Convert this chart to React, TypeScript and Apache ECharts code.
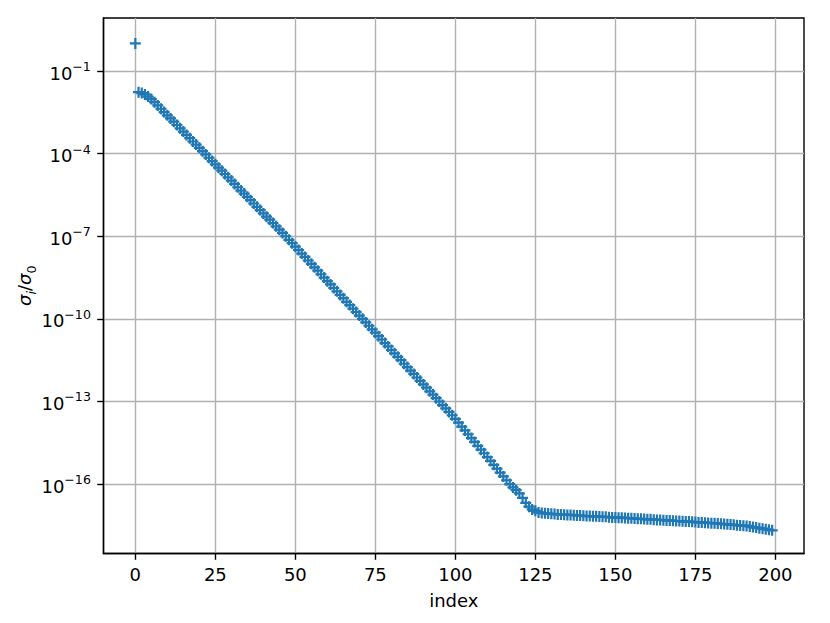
import React, { useEffect, useRef } from "react";
import * as echarts from "echarts";

// index of each singular value (x)
const indices: number[] = [
  0, 1, 2, 3, 4, 5, 6, 7, 8, 9, 10, 11, 12, 13, 14, 15, 16, 17, 18, 19,
  20, 21, 22, 23, 24, 25, 26, 27, 28, 29, 30, 31, 32, 33, 34, 35, 36, 37, 38, 39,
  40, 41, 42, 43, 44, 45, 46, 47, 48, 49, 50, 51, 52, 53, 54, 55, 56, 57, 58, 59,
  60, 61, 62, 63, 64, 65, 66, 67, 68, 69, 70, 71, 72, 73, 74, 75, 76, 77, 78, 79,
  80, 81, 82, 83, 84, 85, 86, 87, 88, 89, 90, 91, 92, 93, 94, 95, 96, 97, 98, 99,
  100, 101, 102, 103, 104, 105, 106, 107, 108, 109, 110, 111, 112, 113, 114, 115, 116, 117, 118, 119,
  120, 121, 122, 123, 124, 125, 126, 127, 128, 129, 130, 131, 132, 133, 134, 135, 136, 137, 138, 139,
  140, 141, 142, 143, 144, 145, 146, 147, 148, 149, 150, 151, 152, 153, 154, 155, 156, 157, 158, 159,
  160, 161, 162, 163, 164, 165, 166, 167, 168, 169, 170, 171, 172, 173, 174, 175, 176, 177, 178, 179,
  180, 181, 182, 183, 184, 185, 186, 187, 188, 189, 190, 191, 192, 193, 194, 195, 196, 197, 198, 199,
];

// log10(sigma_i / sigma_0)
const sigmaRatioLog10: number[] = [
  0.0, -1.77, -1.8, -1.85, -1.93, -2.02, -2.13, -2.25, -2.37, -2.49,
  -2.61, -2.72, -2.84, -2.96, -3.08, -3.2, -3.32, -3.44, -3.56, -3.67,
  -3.79, -3.91, -4.03, -4.15, -4.27, -4.39, -4.51, -4.62, -4.74, -4.86,
  -4.98, -5.1, -5.22, -5.34, -5.45, -5.57, -5.69, -5.81, -5.93, -6.05,
  -6.17, -6.29, -6.4, -6.52, -6.64, -6.76, -6.88, -7.0, -7.13, -7.25,
  -7.38, -7.5, -7.63, -7.75, -7.88, -8.0, -8.13, -8.25, -8.38, -8.5,
  -8.63, -8.75, -8.88, -9.0, -9.13, -9.25, -9.38, -9.5, -9.63, -9.75,
  -9.88, -10.0, -10.13, -10.25, -10.38, -10.5, -10.63, -10.75, -10.88, -11.0,
  -11.13, -11.25, -11.38, -11.5, -11.63, -11.75, -11.88, -12.0, -12.13, -12.25,
  -12.38, -12.5, -12.63, -12.75, -12.88, -13.0, -13.13, -13.25, -13.38, -13.5,
  -13.63, -13.77, -13.91, -14.05, -14.19, -14.33, -14.47, -14.61, -14.75, -14.88,
  -15.02, -15.16, -15.3, -15.44, -15.58, -15.72, -15.86, -16.0, -16.12, -16.22,
  -16.34, -16.5, -16.68, -16.82, -16.92, -16.97, -17.03, -17.05, -17.06, -17.07,
  -17.08, -17.09, -17.1, -17.1, -17.11, -17.12, -17.12, -17.13, -17.14, -17.14,
  -17.15, -17.16, -17.16, -17.17, -17.17, -17.18, -17.19, -17.19, -17.2, -17.21,
  -17.21, -17.22, -17.22, -17.23, -17.24, -17.24, -17.25, -17.26, -17.26, -17.27,
  -17.28, -17.28, -17.29, -17.3, -17.3, -17.31, -17.32, -17.32, -17.33, -17.34,
  -17.34, -17.35, -17.36, -17.36, -17.37, -17.38, -17.39, -17.39, -17.4, -17.41,
  -17.42, -17.42, -17.43, -17.44, -17.45, -17.46, -17.47, -17.48, -17.49, -17.5,
  -17.51, -17.52, -17.54, -17.56, -17.58, -17.6, -17.62, -17.64, -17.66, -17.68,
];

const xTickValues: number[] = [0, 25, 50, 75, 100, 125, 150, 175, 200];
const yTickExponents: number[] = [-16, -13, -10, -7, -4, -1];

const X_MIN = -9.95;
const X_MAX = 208.95;
const Y_MIN_EXP = -18.52;
const Y_MAX_EXP = 0.925;

const BLUE = "#1f77b4";
const FONT = "DejaVu Sans";
const PLUS =
  "path://M4.4,0H6.6V4.4H11V6.6H6.6V11H4.4V6.6H0V4.4H4.4Z";

export default function App() {
  const ref = useRef<HTMLDivElement>(null);

  useEffect(() => {
    if (!ref.current) return;
    const chart = echarts.init(ref.current, null, { renderer: "svg" });
    const data = indices.map((i, k) => [i, Math.pow(10, sigmaRatioLog10[k])]);
    const yTicks = yTickExponents.map((e) => Math.pow(10, e));

    chart.setOption({
      animation: false,
      backgroundColor: "#fff",
      grid: {
        left: 103.5,
        top: 18,
        width: 700.5,
        height: 535.5,
        show: true,
        borderColor: "#000",
        borderWidth: 1.4,
        backgroundColor: "transparent",
      },
      xAxis: {
        type: "value",
        min: X_MIN,
        max: X_MAX,
        name: "index",
        nameLocation: "middle",
        nameGap: 38,
        nameMoveOverlap: false,
        nameTextStyle: { fontFamily: FONT, fontSize: 18, color: "#000" },
        axisLine: { show: true, onZero: false, lineStyle: { color: "#000", width: 1.4 } },
        axisTick: {
          show: true,
          inside: false,
          length: 6.3,
          lineStyle: { color: "#000", width: 1.4 },
          customValues: xTickValues,
        },
        axisLabel: {
          show: true,
          margin: 12,
          fontFamily: FONT,
          fontSize: 18,
          color: "#000",
          customValues: xTickValues,
          formatter: (v: number) => String(Math.round(v)),
        },
        splitLine: { show: true, lineStyle: { color: "#b0b0b0", width: 1.4 } },
        minorTick: { show: false },
      },
      yAxis: {
        type: "log",
        logBase: 10,
        min: Math.pow(10, Y_MIN_EXP),
        max: Math.pow(10, Y_MAX_EXP),
        name: "{it|σ}{subi|i}{n|/}{it|σ}{sub|0}",
        nameLocation: "middle",
        nameRotate: 90,
        nameGap: 66,
        nameMoveOverlap: false,
        nameTextStyle: {
          fontFamily: FONT,
          fontSize: 18,
          color: "#000",
          rich: {
            it: { fontFamily: FONT, fontSize: 18, fontStyle: "italic", color: "#000", lineHeight: 22, verticalAlign: "top" },
            n: { fontFamily: FONT, fontSize: 18, color: "#000", lineHeight: 22, verticalAlign: "top" },
            subi: { fontFamily: FONT, fontSize: 12.6, fontStyle: "italic", color: "#000", lineHeight: 12.6, verticalAlign: "bottom" },
            sub: { fontFamily: FONT, fontSize: 12.6, color: "#000", lineHeight: 12.6, verticalAlign: "bottom" },
          },
        },
        axisLine: { show: true, onZero: false, lineStyle: { color: "#000", width: 1.4 } },
        axisTick: {
          show: true,
          inside: false,
          length: 6.3,
          lineStyle: { color: "#000", width: 1.4 },
          customValues: yTicks,
        },
        axisLabel: {
          show: true,
          margin: 12.6,
          fontFamily: FONT,
          fontSize: 18,
          color: "#000",
          customValues: yTicks,
          formatter: (v: number) => {
            const e = Math.round(Math.log10(v));
            return `{b|10}{s|${e < 0 ? "\u2212" : ""}${Math.abs(e)}}`;
          },
          rich: {
            b: { fontFamily: FONT, fontSize: 18, color: "#000", lineHeight: 22, verticalAlign: "bottom" },
            s: { fontFamily: FONT, fontSize: 12.6, color: "#000", lineHeight: 12.6, verticalAlign: "top" },
          },
        },
        splitLine: { show: true, lineStyle: { color: "#b0b0b0", width: 1.4 } },
        minorTick: { show: false },
        minorSplitLine: { show: false },
      },
      series: [
        {
          type: "scatter",
          data,
          symbol: PLUS,
          symbolSize: 11,
          itemStyle: { color: BLUE, opacity: 1 },
          emphasis: { disabled: true },
        },
      ],
    });

    return () => chart.dispose();
  }, []);

  return (
    <div
      ref={ref}
      style={{ position: "fixed", left: 0, top: 0, width: 830, height: 623, background: "#fff" }}
    />
  );
}
